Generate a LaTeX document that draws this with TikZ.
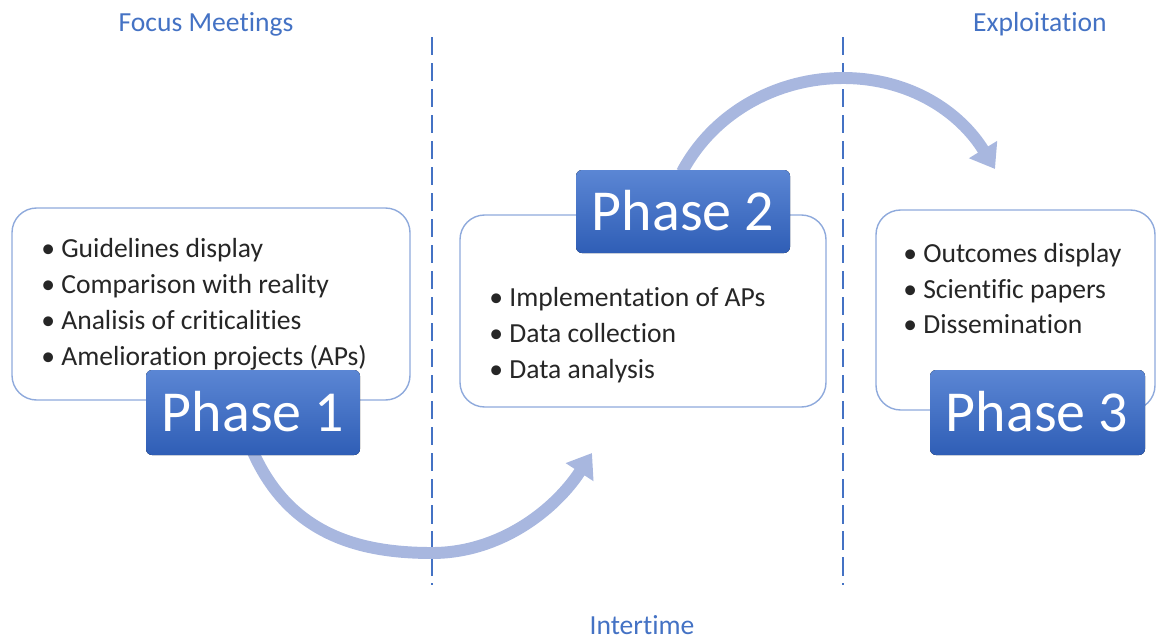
\documentclass[tikz,border=0pt]{standalone}
\usepackage{fontspec}
\setmainfont{Carlito}[Ligatures=NoCommon]
\usetikzlibrary{arrows.meta}
\definecolor{tblue}{HTML}{4472C4}
\definecolor{bord}{HTML}{8FAADC}
\definecolor{arr}{HTML}{A8B7DF}
\definecolor{ptop}{HTML}{5B86D4}
\definecolor{pbot}{HTML}{2F5EB6}
\definecolor{txt}{HTML}{262626}
\tikzset{
  title/.style={text=tblue, font=\fontsize{15.7}{19}\selectfont, inner sep=0},
  divider/.style={draw=tblue, line width=1.3pt, dash pattern=on 10.5pt off 4.3pt},
  bigbox/.style={draw=bord, line width=0.8pt, fill=white, rounded corners=14pt},
  phasebox/.style={rounded corners=3.4pt, top color=ptop, bottom color=pbot, draw=none},
  phasetxt/.style={text=white, font=\fontsize{33}{36}\selectfont, inner sep=0},
  item/.style={text=txt, font=\fontsize{15.7}{19}\selectfont, inner sep=0, anchor=base west},
  flow/.style={draw=arr, line width=6.8pt, -{Triangle[length=13pt,width=18pt]}},
}
\begin{document}
\begin{tikzpicture}[x=0.02cm, y=-0.02cm]
\useasboundingbox (0,0) rectangle (1156,639);
% titles
\node[title] (t1) at (206,24) {Focus Meetings};
\node[title] (t3) at (1040,24) {Exploitation};
\node[title] (t2) at (642,625) {Intertime};
% dividers
\coordinate (d1a) at (432,37); \coordinate (d1b) at (432,585);
\coordinate (d2a) at (843,37); \coordinate (d2b) at (843,585);
\draw[divider] (d1a) -- (d1b);
\draw[divider] (d2a) -- (d2b);
% arrow anchor points
\coordinate (p1s) at (253,452);
\coordinate (a1e) at (592,453);
\coordinate (p2n) at (682,172);
\coordinate (a2e) at (995,169);
% arrows
\draw[flow] (p1s) .. controls (290,535) and (360,553) .. (432,553)
                  .. controls (500,553) and (555,510) .. (a1e);
\draw[flow] (p2n) .. controls (715,110) and (780,78) .. (843,78)
                  .. controls (910,78) and (960,112) .. (a2e);
% big boxes
\draw[bigbox] (12,208) rectangle (410,400);
\draw[bigbox] (460,215) rectangle (826,407);
\draw[bigbox] (876,210) rectangle (1155,410);
% items
\node[item] (i11) at (41,257) {• Guidelines display};
\node[item] (i12) at (41,293) {• Comparison with reality};
\node[item] (i13) at (41,329) {• Analisis of criticalities};
\node[item] (i14) at (41,365) {• Amelioration projects (APs)};
\node[item] (i21) at (489,306) {• Implementation of APs};
\node[item] (i22) at (489,342) {• Data collection};
\node[item] (i23) at (489,378) {• Data analysis};
\node[item] (i31) at (903,262) {• Outcomes display};
\node[item] (i32) at (903,298) {• Scientific papers};
\node[item] (i33) at (903,333) {• Dissemination};
% phase boxes
\fill[phasebox] (146,370) rectangle (360,455);
\fill[phasebox] (576,170) rectangle (790,253);
\fill[phasebox] (930,370) rectangle (1145,455);
\node[phasetxt] (p1) at (253,412) {Phase 1};
\node[phasetxt] (p2) at (683,211) {Phase 2};
\node[phasetxt] (p3) at (1037,412) {Phase 3};
\end{tikzpicture}
\end{document}
